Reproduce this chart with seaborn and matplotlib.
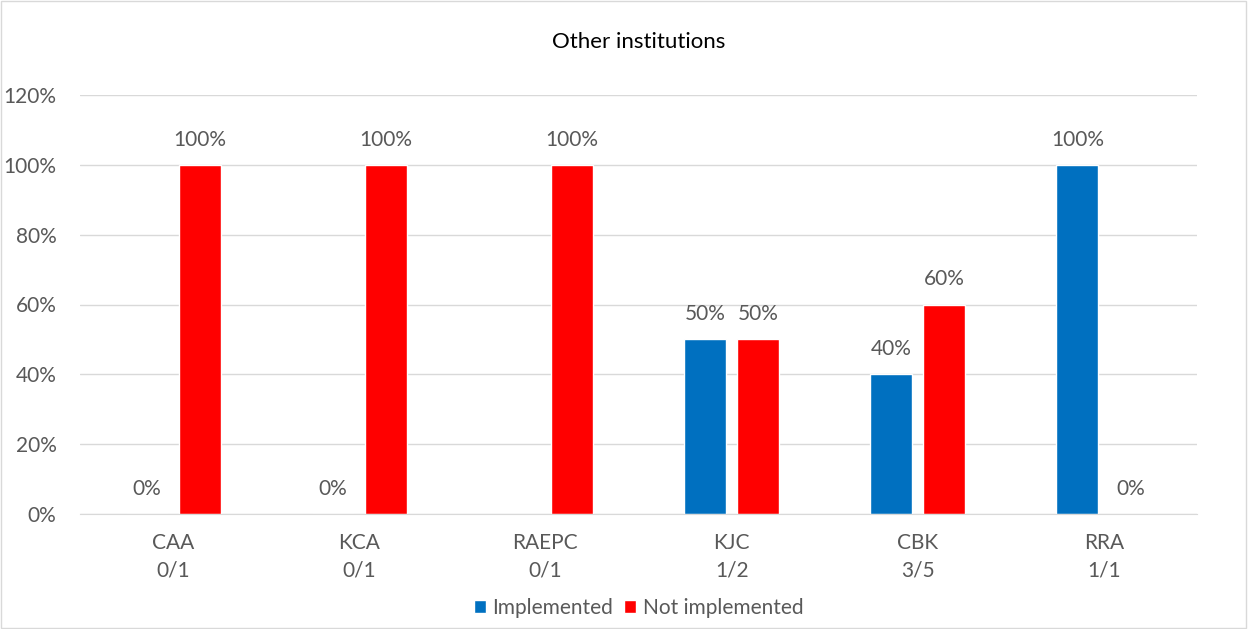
import pandas as pd
import numpy as np
import matplotlib.pyplot as plt
import seaborn as sns
from matplotlib.patches import Rectangle

# datos
institutions = ['CAA', 'KCA', 'RAEPC', 'KJC', 'CBK', 'RRA']
ratios = ['0/1', '0/1', '0/1', '1/2', '3/5', '1/1']
implemented = [0, 0, np.nan, 50, 40, 100]
not_implemented = [100, 100, 100, 50, 60, 0]

labels = [f'{i}\n{r}' for i, r in zip(institutions, ratios)]
df = pd.DataFrame({
    'label': labels * 2,
    'value': implemented + not_implemented,
    'status': ['Implemented'] * 6 + ['Not implemented'] * 6,
})

sns.set_style('white')
plt.rcParams['font.family'] = ['Lato', 'DejaVu Sans']
text_color = '#595959'
fs = 15

fig = plt.figure(figsize=(12.48, 6.29), dpi=100)
ax = fig.add_axes([80 / 1248, 1 - 514 / 629, (1197 - 80) / 1248, (514 - 95) / 629])

sns.barplot(data=df, x='label', y='value', hue='status', order=labels,
            palette={'Implemented': '#0070C0', 'Not implemented': '#FF0000'},
            width=0.57, gap=0.21, ax=ax, saturation=1, legend=True)

for container in ax.containers:
    vals = [f'{v:.0f}%' if not np.isnan(v) else '' for v in container.datavalues]
    ax.bar_label(container, labels=vals, padding=11, fontsize=fs, color=text_color)

ax.set_ylim(0, 120)
ax.set_yticks(range(0, 121, 20))
ax.set_yticklabels([f'{t}%' for t in range(0, 121, 20)], fontsize=fs, color=text_color)
ax.tick_params(axis='x', labelsize=fs, labelcolor=text_color, pad=14, length=0)
for t in ax.get_xticklabels():
    t.set_linespacing(1.45)
ax.tick_params(axis='y', pad=17, length=0)
ax.set_xlabel('')
ax.set_ylabel('')
ax.grid(axis='y', color='#D9D9D9', linewidth=1)
ax.set_axisbelow(True)
for s in ['top', 'right', 'left']:
    ax.spines[s].set_visible(False)
ax.spines['bottom'].set_color('#D9D9D9')

ax.set_title('Other institutions', fontsize=16, color='#000000', pad=34)

ax.legend(loc='upper center', bbox_to_anchor=(0.5, -0.155), ncol=2, frameon=False,
          fontsize=fs, labelcolor=text_color, handlelength=0.6, handleheight=0.6,
          handletextpad=0.3, columnspacing=0.5)

fig.patches.append(Rectangle((0.001, 0.001), 0.997, 0.997, transform=fig.transFigure,
                             fill=False, edgecolor='#D9D9D9', linewidth=1))

plt.savefig('out.png', dpi=100)
plt.close()
